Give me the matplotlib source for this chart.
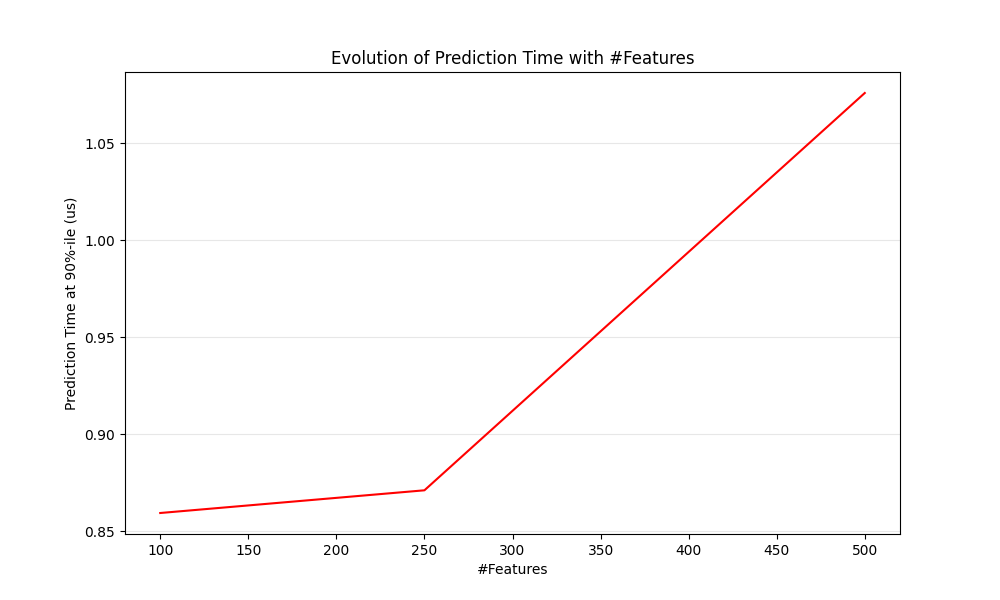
import matplotlib
matplotlib.use("Agg")
import matplotlib.pyplot as plt

features = [100, 250, 500]
pred_time = [0.8593, 0.8710, 1.0758]

fig, ax = plt.subplots(figsize=(10, 6), dpi=100)
ax.plot(features, pred_time, color="red")
ax.set_title("Evolution of Prediction Time with #Features")
ax.set_xlabel("#Features")
ax.set_ylabel("Prediction Time at 90%-ile (us)")
ax.grid(True, axis="y", alpha=0.3)
fig.savefig("out.png")
